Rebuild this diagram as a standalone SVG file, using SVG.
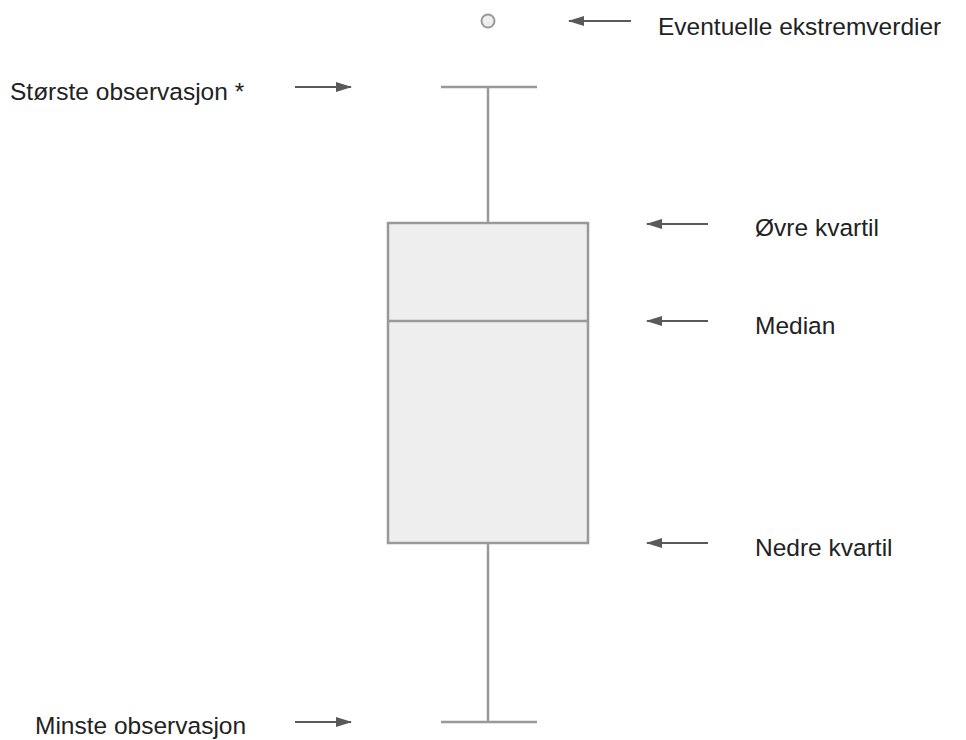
<svg xmlns="http://www.w3.org/2000/svg" width="966" height="740" viewBox="0 0 966 740">
<style>
.lbl{font-family:"Liberation Sans",Arial,sans-serif;font-size:24.5px;fill:#222}
.wh{stroke:#999;stroke-width:2.5;fill:none}
.ar{stroke:#595959;stroke-width:2;fill:none}
</style>
<defs>
<marker id="ah" markerWidth="16" markerHeight="10" refX="15" refY="5" orient="auto" markerUnits="userSpaceOnUse" viewBox="0 0 16 10">
<path d="M0,0 L16,5 L0,10 Z" fill="#595959"/>
</marker>
</defs>
<rect width="966" height="740" fill="#fff"/>
<g id="boxplot">
<line class="wh" x1="441" y1="87" x2="537" y2="87"/>
<line class="wh" x1="488" y1="87" x2="488" y2="223"/>
<rect x="388" y="223" width="200" height="320" fill="#eeeeee" stroke="#999" stroke-width="2.5"/>
<line class="wh" x1="388" y1="321" x2="588" y2="321"/>
<line class="wh" x1="488" y1="543" x2="488" y2="722"/>
<line class="wh" x1="441" y1="722" x2="537" y2="722"/>
<circle cx="488" cy="21" r="6.5" fill="#eeeeee" stroke="#999" stroke-width="2"/>
</g>
<g id="connectors">
<line class="ar" x1="631" y1="21" x2="569" y2="21" marker-end="url(#ah)"/>
<line class="ar" x1="295" y1="87" x2="351" y2="87" marker-end="url(#ah)"/>
<line class="ar" x1="708" y1="224" x2="647" y2="224" marker-end="url(#ah)"/>
<line class="ar" x1="708" y1="321" x2="647" y2="321" marker-end="url(#ah)"/>
<line class="ar" x1="708" y1="543" x2="647" y2="543" marker-end="url(#ah)"/>
<line class="ar" x1="295" y1="722" x2="351" y2="722" marker-end="url(#ah)"/>
</g>
<g id="labels">
<text class="lbl" x="658" y="35">Eventuelle ekstremverdier</text>
<text class="lbl" x="10" y="100">Største observasjon *</text>
<text class="lbl" x="755" y="236">Øvre kvartil</text>
<text class="lbl" x="755" y="334">Median</text>
<text class="lbl" x="755" y="556">Nedre kvartil</text>
<text class="lbl" x="35" y="734">Minste observasjon</text>
</g>
</svg>
